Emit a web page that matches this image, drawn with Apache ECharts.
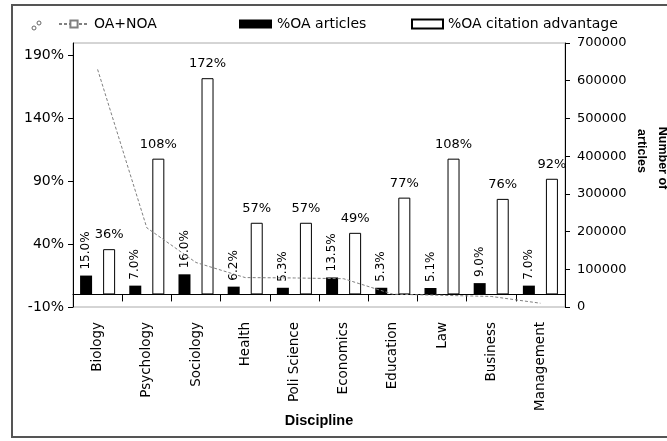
<!DOCTYPE html>
<html><head><meta charset="utf-8">
<script src="https://cdn.jsdelivr.net/npm/echarts@6/dist/echarts.min.js"></script>
<style>html,body{margin:0;padding:0;background:#fff}#c{width:667px;height:441px}</style>
</head><body><div id="c"></div>
<script>
const categories = ['Biology','Psychology','Sociology','Health','Poli Science','Economics','Education','Law','Business','Management'];
const oaArticles = [15.0, 7.0, 16.0, 6.2, 5.3, 13.5, 5.3, 5.1, 9.0, 7.0];
const citationAdvantage = [36, 108, 172, 57, 57, 49, 77, 108, 76, 92];
const totalArticles = [630000, 210000, 118000, 78000, 77000, 75000, 34000, 31000, 28000, 10000];
const leftAxisRange = [-10, 200, 50];
const rightAxisRange = [0, 700000, 100000];

const FONT = 'DejaVu Sans';
const chart = echarts.init(document.getElementById('c'), null, {renderer: 'canvas'});
const legendCommon = {
  top: 17, padding: 0, selectedMode: false, itemHeight: 9,
  textStyle: {fontFamily: FONT, fontSize: 14, color: '#000'}
};
chart.setOption({
  backgroundColor: '#fff',
  animation: false,
  textStyle: {fontFamily: FONT},
  grid: {left: 73, right: 102, top: 43, bottom: 134, show: true, borderColor: '#aaa', borderWidth: 1,
    backgroundColor: 'transparent', containLabel: false, outerBoundsMode: 'none'},
  legend: [
    Object.assign({}, legendCommon, {left: 58, itemWidth: 30, data: ['OA+NOA']}),
    Object.assign({}, legendCommon, {left: 239, itemWidth: 33, data: [{name: '%OA articles', icon: 'rect'}]}),
    Object.assign({}, legendCommon, {left: 411, itemWidth: 31, data: [{name: '%OA citation advantage', icon: 'rect'}]})
  ],
  xAxis: {
    type: 'category', data: categories,
    axisLine: {show: true, onZero: true, onZeroAxisIndex: 0, lineStyle: {color: '#000', width: 1}},
    axisTick: {show: true, length: 7, lineStyle: {color: '#000'}},
    axisLabel: {rotate: 90, margin: 15, interval: 0, fontSize: 13.5, color: '#000', fontFamily: FONT},
    name: 'Discipline', nameLocation: 'middle', nameGap: 106, nameMoveOverlap: false,
    nameTextStyle: {fontFamily: 'Liberation Sans', fontWeight: 'bold', fontSize: 14.5, color: '#000'},
    splitLine: {show: false}
  },
  yAxis: [
    {
      type: 'value', min: leftAxisRange[0], max: leftAxisRange[1], interval: leftAxisRange[2],
      position: 'left',
      axisLine: {show: true, lineStyle: {color: '#000'}},
      axisTick: {show: true, length: 5, lineStyle: {color: '#000'}},
      axisLabel: {formatter: '{value}%', fontSize: 14, color: '#000', margin: 9, showMaxLabel: false, fontFamily: FONT},
      splitLine: {show: false}
    },
    {
      type: 'value', min: rightAxisRange[0], max: rightAxisRange[1], interval: rightAxisRange[2],
      position: 'right',
      axisLine: {show: true, lineStyle: {color: '#000'}},
      axisTick: {show: true, length: 5, lineStyle: {color: '#000'}},
      axisLabel: {fontSize: 13, color: '#000', margin: 12, fontFamily: FONT, formatter: v => String(v)},
      splitLine: {show: false}
    }
  ],
  series: [
    {
      name: '%OA articles', type: 'bar', yAxisIndex: 0, data: oaArticles,
      barWidth: 12, barGap: '92%',
      itemStyle: {color: '#000'},
      label: {show: true, position: 'top', rotate: 90, align: 'left', verticalAlign: 'middle', distance: 6,
        fontSize: 12, color: '#000', fontFamily: FONT,
        formatter: p => p.value.toFixed(1) + '%'}
    },
    {
      name: '%OA citation advantage', type: 'bar', yAxisIndex: 0, data: citationAdvantage,
      barWidth: 12,
      itemStyle: {color: '#fff', borderColor: '#000', borderWidth: 1},
      label: {show: true, position: 'top', distance: 8, fontSize: 13, color: '#000', fontFamily: FONT,
        formatter: '{c}%'}
    },
    {
      name: 'OA+NOA', type: 'line', yAxisIndex: 1, data: totalArticles, z: 5,
      symbol: 'rect', symbolSize: 5, showSymbol: false,
      lineStyle: {color: '#808080', width: 1, type: [3, 2]},
      itemStyle: {color: '#fff', borderColor: '#808080', borderWidth: 1}
    }
  ],
  graphic: [
    {type: 'rect', shape: {x: 12, y: 5, width: 700, height: 432}, style: {fill: null, stroke: '#555', lineWidth: 2}, silent: true},
    {type: 'circle', shape: {cx: 34, cy: 28, r: 2}, style: {fill: null, stroke: '#666', lineWidth: 1}},
    {type: 'circle', shape: {cx: 39, cy: 23, r: 2}, style: {fill: null, stroke: '#666', lineWidth: 1}},
    {type: 'text', x: 662, y: 158, rotation: -Math.PI / 2,
      style: {text: 'Number of', font: 'bold 12.5px "Liberation Sans"', fill: '#000', align: 'center', verticalAlign: 'middle'}},
    {type: 'text', x: 641, y: 151, rotation: -Math.PI / 2,
      style: {text: 'articles', font: 'bold 12.5px "Liberation Sans"', fill: '#000', align: 'center', verticalAlign: 'middle'}}
  ]
});
</script></body></html>
